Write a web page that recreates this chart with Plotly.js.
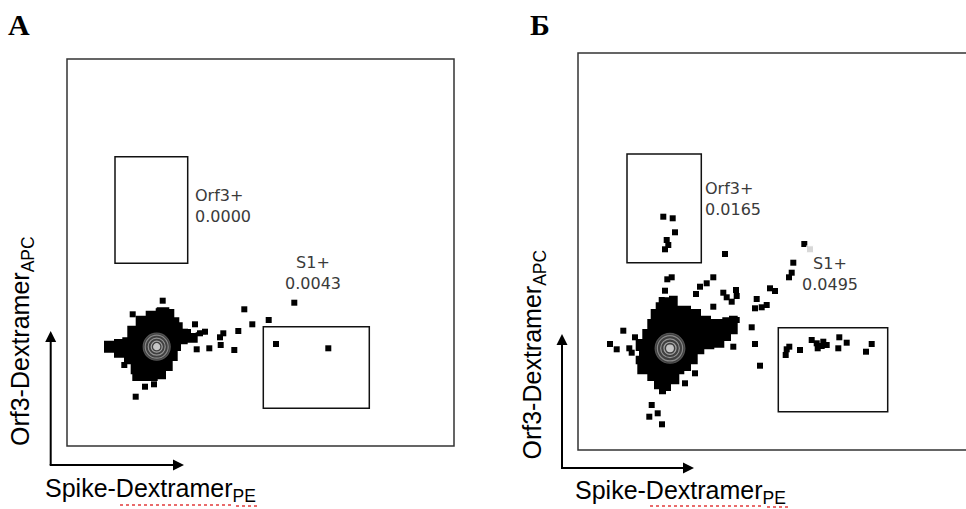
<!DOCTYPE html>
<html>
<head>
<meta charset="utf-8">
<script src="https://cdn.plot.ly/plotly-3.0.1.min.js"></script>
<style>html,body{margin:0;padding:0;background:#fff;}#chart{width:966px;height:509px;}</style>
</head>
<body>
<div id="chart"></div>
<script>
// ---------- Panel A (fluorescence units, frame 0..387) ----------
const aClusterX = [89.7,101.3,106.3,111.3,114.7,123,133,138,129.7,119.7,113,109.7,104.7,98,89.7,78,66.3,64.7,58,48,38,38,48,56.3,61.3,69.7,79.7];
const aClusterY = [137.7,136,127.7,122.7,116,111,114.3,112.7,104.3,102.7,96,86,76,67.7,66,66,72.7,82.7,89.3,94.3,99.3,104.3,106,107.7,119.3,129.3,134.3];
const aEventsX = [95.7,65.7,128,177.3,185.3,201.7,227.3,171.3,156.3,153,153.7,142.3,167.3,129.7,209,261.3,57.3,78,87,68.7,118,133,138,126.3];
const aEventsY = [145.3,131.7,121.7,136.7,121.7,126,143.3,115,112.7,108.7,101,97.7,96,96.7,102,97.7,81,59.3,61.7,49.3,114.3,112.7,114.3,110];
const aCenter = [89.7, 99.3];
const aOrfGate = [48, 120.7, 182.7, 289.3];
const aS1Gate = [196.3, 302.3, 37.7, 119.3];
const aOrfFreq = "0.0000";
const aS1Freq = "0.0043";

// ---------- Panel B ----------
const bClusterX = [83.7,92,98.7,112,122,132,145.3,152,158.7,158.7,152,145.3,135.3,125.3,118.7,112,105.3,100.3,92,87,82,77,70.3,60.3,58.7,62,58.7,65.3,70.3,73.7,78.7];
const bClusterY = [151.7,153.3,143.3,140,133.3,130,131.7,133.3,130,116.7,110,103.3,101.7,96.7,86.7,80,76.7,66.7,60,56.7,61.7,70,76.7,86.7,93.3,100,110,120,130,140,146.7];
const bEventsX = [85.3,94.7,97,88.7,90.3,87,147,226.3,215.3,213.7,211,192,197,178.7,177,183.7,188.7,173.7,177,182,89.3,93.7,122,128.7,135.3,118,145.3,148.7,158,158.7,153.7,135.3,83.7,87,45.3,57,32,38.7,51.3,53.7,158.7,152,155.3,117,107,73.7,71.3,79.7,84,208.7,211.3,207.7,222,233.7,238.7,243.7,248.7,239.7,245.3,261.3,260.3,268.7,293.7,288];
const bEventsY = [233.3,231.7,217.7,210,205,200.7,196,206,187.3,177.3,172.7,161.7,159,151,141.7,142.7,145,122.7,106,84.3,170.7,172.7,163.3,166.7,172.7,156,157.3,152.7,160,154,148.3,143.3,150,159.3,119.3,112.7,106,100.7,101.7,97.3,130,120,103.3,76.7,66.7,45,33.3,36.7,25.7,100.7,103.3,95,100,110,106.7,104,105,101.7,108.3,112.7,101.7,107.3,106,98.3];
const bFaintX = [232];
const bFaintY = [200.7];
const bCenter = [92, 101.7];
const bOrfGate = [49, 123.3, 187.3, 296];
const bS1Gate = [200.3, 309.7, 38.3, 122.3];
const bOrfFreq = "0.0165";
const bS1Freq = "0.0495";

const gateNames = ["Orf3+", "S1+"];
const panelLetters = ["А", "Б"];
const xTitle = "Spike-Dextramer<sub>PE</sub>";
const yTitle = "Orf3-Dextramer<sub>APC</sub>";

const W = 966, H = 509;
const px = v => v / W;
const py = v => (H - v) / H;

function clusterTraces(cx, cy, ex, ey, center, xa, ya, s) {
  const t = [];
  t.push({x: cx.concat([cx[0]]), y: cy.concat([cy[0]]), xaxis: xa, yaxis: ya, mode: 'lines',
    line: {color: '#000', width: 2, shape: 'hv'}, fill: 'toself', fillcolor: '#000', hoverinfo: 'skip', showlegend: false});
  t.push({x: ex, y: ey, xaxis: xa, yaxis: ya, mode: 'markers',
    marker: {symbol: 'square', size: 6, color: '#000'}, showlegend: false});
  const c = [center[0], center[0], center[0], center[0], center[0]];
  const r = [center[1], center[1], center[1], center[1], center[1]];
  t.push({x: c, y: r, xaxis: xa, yaxis: ya, mode: 'markers', showlegend: false, hoverinfo: 'skip',
    marker: {symbol: ['circle', 'circle-open', 'circle-open', 'circle-open', 'circle'],
      size: [27*s, 23*s, 17*s, 11*s, 6*s],
      color: ['#5a5a5a', '#a8a8a8', '#b8b8b8', '#cfcfcf', '#ffffff'],
      line: {width: 1.2, color: ['#777', '#a8a8a8', '#b8b8b8', '#cfcfcf', '#ffffff']}}});
  return t;
}

const data = []
  .concat(clusterTraces(aClusterX, aClusterY, aEventsX, aEventsY, aCenter, 'x', 'y', 1))
  .concat(clusterTraces(bClusterX, bClusterY, bEventsX, bEventsY, bCenter, 'x2', 'y2', 1.1));
data.push({x: bFaintX, y: bFaintY, xaxis: 'x2', yaxis: 'y2', mode: 'markers',
  marker: {symbol: 'square', size: [7], color: '#c8c8c8'}, showlegend: false});

function gateRect(g, xr, yr) {
  return {type: 'rect', xref: xr, yref: yr, x0: g[0], x1: g[1], y0: g[2], y1: g[3],
    line: {color: '#111', width: 1.5}, fillcolor: 'rgba(0,0,0,0)'};
}

// decorative axis arrows (paper coordinates)
function arrowShapes(ox, oy, vTop, hRight) {
  const L = 11, Wd = 5.5;
  return [
    {type: 'line', xref: 'paper', yref: 'paper', x0: px(ox), y0: py(oy), x1: px(ox), y1: py(vTop + L - 1), line: {color: '#000', width: 2}},
    {type: 'line', xref: 'paper', yref: 'paper', x0: px(ox - 1), y0: py(oy), x1: px(hRight - L + 1), y1: py(oy), line: {color: '#000', width: 2}},
    {type: 'path', xref: 'paper', yref: 'paper', line: {width: 0}, fillcolor: '#000',
      path: `M ${px(ox)},${py(vTop)} L ${px(ox - Wd)},${py(vTop + L)} L ${px(ox + Wd)},${py(vTop + L)} Z`},
    {type: 'path', xref: 'paper', yref: 'paper', line: {width: 0}, fillcolor: '#000',
      path: `M ${px(hRight)},${py(oy)} L ${px(hRight - L)},${py(oy - Wd)} L ${px(hRight - L)},${py(oy + Wd)} Z`}
  ];
}

const squiggle = (x0, x1, y) => ({type: 'line', xref: 'paper', yref: 'paper', x0: px(x0), x1: px(x1), y0: py(y), y1: py(y),
  line: {color: '#e23b3b', width: 1.5, dash: 'dot'}});

const shapes = [
  {type: 'rect', xref: 'x', yref: 'y', x0: 0, x1: 387, y0: 0, y1: 387, line: {color: '#333', width: 1.5}},
  {type: 'path', xref: 'x2', yref: 'y2', path: 'M 388,0 L 0,0 L 0,397 L 388,397', line: {color: '#333', width: 1.5}},
  gateRect(aOrfGate, 'x', 'y'), gateRect(aS1Gate, 'x', 'y'),
  gateRect(bOrfGate, 'x2', 'y2'), gateRect(bS1Gate, 'x2', 'y2'),
  squiggle(120, 232, 505), squiggle(236, 258, 506),
  squiggle(650, 764, 506), squiggle(767, 790, 507)
].concat(arrowShapes(50.7, 465, 331, 184), arrowShapes(562, 468, 334, 694));

const gateFont = {family: 'DejaVu Sans', size: 16, color: '#3a3a3a'};
const titleFont = {family: 'Liberation Sans, Arial', size: 25, color: '#000'};
const letterFont = {family: 'Liberation Serif, Times New Roman', size: 30, color: '#000', weight: 'bold'};

const annotations = [
  {xref: 'x', yref: 'y', x: 126, y: 240.5, text: gateNames[0] + '<br>' + aOrfFreq, showarrow: false, xanchor: 'left', yanchor: 'middle', align: 'left', font: gateFont},
  {xref: 'x', yref: 'y', x: 246, y: 173, text: gateNames[1] + '<br>' + aS1Freq, showarrow: false, xanchor: 'center', yanchor: 'middle', align: 'center', font: gateFont},
  {xref: 'x2', yref: 'y2', x: 125, y: 251, text: gateNames[0] + '<br>' + bOrfFreq, showarrow: false, xanchor: 'left', yanchor: 'middle', align: 'left', font: gateFont},
  {xref: 'x2', yref: 'y2', x: 251.5, y: 176.5, text: gateNames[1] + '<br>' + bS1Freq, showarrow: false, xanchor: 'center', yanchor: 'middle', align: 'center', font: gateFont},
  {xref: 'paper', yref: 'paper', x: px(19), y: py(25), text: panelLetters[0], showarrow: false, xanchor: 'center', yanchor: 'middle', font: letterFont},
  {xref: 'paper', yref: 'paper', x: px(540), y: py(25), text: panelLetters[1], showarrow: false, xanchor: 'center', yanchor: 'middle', font: letterFont},
  {xref: 'paper', yref: 'paper', x: px(43), y: py(490), text: xTitle, showarrow: false, xanchor: 'left', yanchor: 'middle', font: titleFont},
  {xref: 'paper', yref: 'paper', x: px(573), y: py(492), text: xTitle, showarrow: false, xanchor: 'left', yanchor: 'middle', font: titleFont},
  {xref: 'paper', yref: 'paper', x: px(22), y: py(341), text: yTitle, textangle: -90, showarrow: false, xanchor: 'center', yanchor: 'middle', font: titleFont},
  {xref: 'paper', yref: 'paper', x: px(533.5), y: py(355), text: yTitle, textangle: -90, showarrow: false, xanchor: 'center', yanchor: 'middle', font: titleFont}
];

const hidden = {visible: false, showgrid: false, zeroline: false, fixedrange: true};
const layout = {
  width: W, height: H, margin: {l: 0, r: 0, t: 0, b: 0, pad: 0},
  paper_bgcolor: '#fff', plot_bgcolor: 'rgba(0,0,0,0)', showlegend: false,
  xaxis: Object.assign({}, hidden, {domain: [62/W, 459/W], range: [-5, 392]}),
  yaxis: Object.assign({}, hidden, {domain: [58/H, 455/H], range: [-5, 392]}),
  xaxis2: Object.assign({}, hidden, {domain: [573/W, 1], range: [-5, 388], anchor: 'y2'}),
  yaxis2: Object.assign({}, hidden, {domain: [54/H, 461/H], range: [-5, 402], anchor: 'x2'}),
  shapes: shapes, annotations: annotations
};

Plotly.newPlot('chart', data, layout, {displayModeBar: false, staticPlot: true});
</script>
</body>
</html>
